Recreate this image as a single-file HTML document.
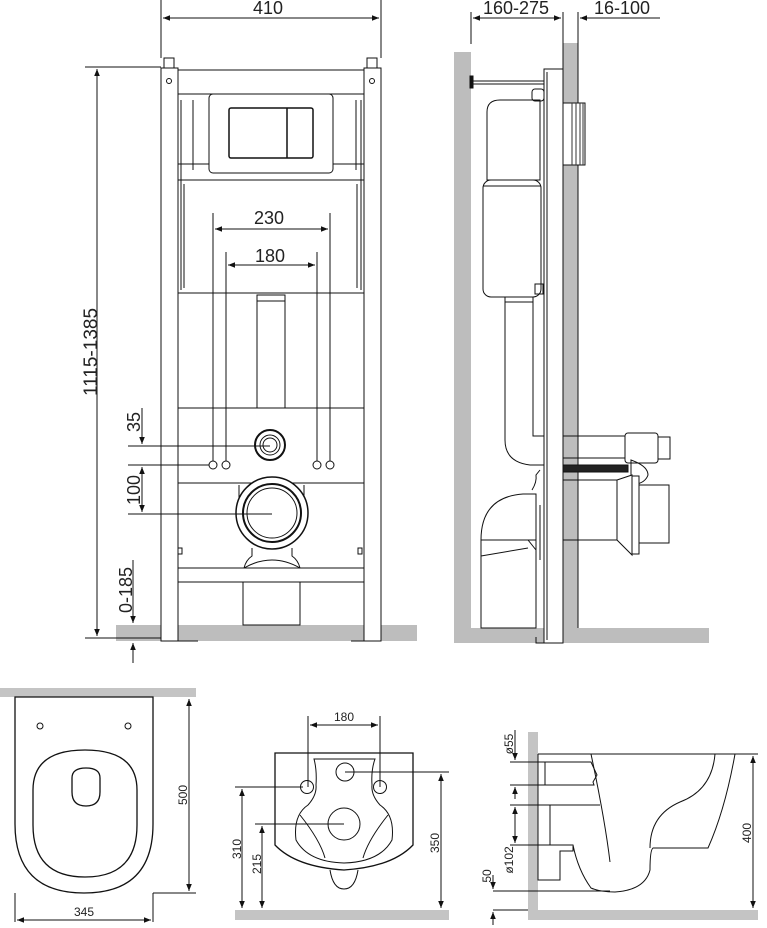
<!DOCTYPE html>
<html><head><meta charset="utf-8"><style>
html,body{margin:0;padding:0;background:#fff;}
svg{display:block;}
text{font-family:"Liberation Sans",sans-serif;fill:#222;}
</style></head><body>
<svg width="767" height="928" viewBox="0 0 767 928" xmlns="http://www.w3.org/2000/svg">
<defs>
<marker id="a" viewBox="0 0 10 10" refX="10" refY="5" markerWidth="9" markerHeight="7" orient="auto-start-reverse" markerUnits="userSpaceOnUse"><path d="M0,1 L10,5 L0,9 z" fill="#111"/></marker>
</defs>
<g fill="none" stroke="#111" stroke-width="1">
<rect x="116" y="625" width="301" height="16" fill="#bdbdbd" stroke="none"/>
<rect x="161" y="68" width="17" height="573" fill="#fff"/>
<rect x="364" y="68" width="17" height="573" fill="#fff"/>
<rect x="164" y="58" width="10" height="10"/>
<rect x="367" y="58" width="10" height="10"/>
<circle cx="169" cy="81" r="2.5"/><circle cx="372" cy="81" r="2.5"/>
<path d="M161,641 H198 M351,641 H381"/>
<path d="M178,70 H364 M178,94 H364 M178,164 H364 M178,180 H364 M178,293 H364"/>
<path d="M181,100 V290 M193,100 V170 M356,100 V170 M361,100 V290 M184,184 V288 M357,184 V288"/>
<rect x="209" y="94" width="124" height="79" rx="4" fill="#fff"/>
<rect x="229" y="108" width="84" height="50" rx="2" stroke-width="1.5"/>
<path d="M287,108 V158" stroke-width="1.5"/>
<path d="M257,295 V408 M285,295 V408"/>
<rect x="257" y="295" width="28" height="6"/>
<path d="M178,408 H364 M178,483 H364 M178,568 H364 M178,582 H364"/>
<circle cx="270" cy="445" r="15" stroke-width="2"/><circle cx="270" cy="445" r="10"/><circle cx="270" cy="445" r="7"/>
<circle cx="213" cy="465" r="4"/><circle cx="226" cy="465" r="4"/><circle cx="317" cy="465" r="4"/><circle cx="330" cy="465" r="4"/>
<path d="M239,485 V520 M304,485 V520"/>
<circle cx="272" cy="513" r="36" fill="#fff" stroke-width="1.5"/><circle cx="272" cy="513" r="29" stroke-width="2"/><circle cx="272" cy="513" r="25"/>
<path d="M252,548 V556 Q246,560 244,568 M292,548 V556 Q298,560 300,568 M244,568 Q272,552 300,568"/>
<rect x="243" y="582" width="57" height="43"/>
<rect x="178" y="548" width="4" height="6"/><rect x="358" y="548" width="4" height="6"/>
<path d="M161,58 V0 M381,58 V0"/>
<path d="M163,18 H379" marker-start="url(#a)" marker-end="url(#a)"/>
<path d="M85,67 H161 M85,638 H161"/>
<path d="M97,69 V636" marker-start="url(#a)" marker-end="url(#a)"/>
<path d="M213,213 V461 M330,213 V461 M226,252 V461 M317,252 V461"/>
<path d="M215,229 H328" marker-start="url(#a)" marker-end="url(#a)"/>
<path d="M228,265 H315" marker-start="url(#a)" marker-end="url(#a)"/>
<path d="M128,446 H270 M128,465 H209 M128,514 H272"/>
<path d="M142,408 V444" marker-end="url(#a)"/>
<path d="M142,467 V512" marker-start="url(#a)" marker-end="url(#a)"/>
<path d="M133,560 V623" marker-end="url(#a)"/>
<path d="M133,663 V643" marker-end="url(#a)"/>
<path d="M118,638 H161"/>

<rect x="454" y="52" width="17" height="591" fill="#bdbdbd" stroke="none"/>
<rect x="454" y="628" width="255" height="15" fill="#bdbdbd" stroke="none"/>
<rect x="563" y="43" width="15" height="585" fill="#bdbdbd" stroke="none"/>
<path d="M563,43 V628 M578,43 V628"/>
<rect x="544" y="69" width="19" height="574" fill="#fff"/>
<path d="M547,72 V640"/>
<path d="M471,81 H544 M471,84 H544"/><rect x="470" y="76" width="3" height="12" fill="#111"/>
<rect x="532" y="89" width="12" height="12" rx="3"/>
<path d="M487,180 V112 Q487,100 500,100 H540 V180 Z"/>
<rect x="483" y="180" width="58" height="117" rx="8" fill="#fff"/>
<path d="M483,186 H541"/>
<rect x="535" y="284" width="8" height="10"/>
<path d="M505,300 V440 Q505,462 530,465 H544 M533,300 V436 H544"/>
<rect x="505" y="297" width="28" height="5"/>
<rect x="563" y="103" width="22" height="62" fill="#fff"/>
<path d="M572,103 V165 M576,103 V165 M580,103 V165 M583,103 V165" stroke="#333"/>
<path d="M563,436 H625 M563,458 H625"/>
<rect x="625" y="433" width="33" height="30" rx="3" fill="#fff"/>
<rect x="658" y="437" width="12" height="22"/>
<rect x="563" y="465" width="65" height="7" fill="#222"/>
<path d="M631,460 Q648,466 648,475 Q645,484 631,485 Z"/>
<path d="M563,480 H617 M563,540 H617"/>
<path d="M617,480 L632,475 V555 L617,540 Z" fill="#fff"/>
<rect x="632" y="476" width="7" height="78" fill="#fff"/>
<rect x="639" y="485" width="30" height="58"/>
<path d="M481,540 Q481,497 523,494 H536 V540 Z" fill="#fff"/>
<path d="M481,540 H528 L536,550 V628 H481 Z" fill="#fff"/>
<path d="M481,556 L528,548"/>
<path d="M536,498 V560 M540,505 V560"/>
<path d="M540,470 L536,475 Q537,482 532,490"/>
<path d="M536,637 V643 H547"/>
<path d="M471,12 V44 M563,12 V44 M578,12 V44"/>
<path d="M473,18 H561" marker-start="url(#a)" marker-end="url(#a)"/>
<path d="M660,18 H580" marker-end="url(#a)"/>

<rect x="0" y="688" width="196" height="9" fill="#c4c4c4" stroke="none"/>
<path d="M15,697 H153 V824 Q153,893 84,893 Q15,893 15,824 Z" stroke-width="1.3"/>
<path d="M33,790 Q33,750 85,750 Q137,750 137,790 V825 Q137,877 85,877 Q33,877 33,825 Z" stroke-width="1.3"/>
<path d="M72,778 Q72,768 86,768 Q100,768 100,778 V792 Q100,806 86,806 Q72,806 72,792 Z" stroke-width="1.3"/>
<circle cx="40" cy="726" r="3"/><circle cx="128" cy="726" r="3"/>
<path d="M153,893 H196 M15,893 V922 M153,893 V922"/>
<path d="M189,699 V891" marker-start="url(#a)" marker-end="url(#a)"/>
<path d="M17,920 H151" marker-start="url(#a)" marker-end="url(#a)"/>

<rect x="235" y="910" width="214" height="10" fill="#c4c4c4" stroke="none"/>
<path d="M275,753 H413 V845 Q392,867 344,870 Q296,867 275,845 Z" stroke-width="1.3"/>
<path d="M330,870 Q333,889 344,889 Q355,889 358,870"/>
<path d="M314,759 H375 Q371,770 372,785 Q371,795 380,805 Q395,815 392,840 Q380,862 344,863 Q308,862 296,840 Q293,815 308,805 Q317,795 316,785 Q317,770 314,759 Z"/>
<path d="M300,815 Q320,840 325,858 M388,815 Q368,840 363,858"/>
<circle cx="307" cy="787" r="6.5"/><circle cx="380" cy="787" r="6.5"/><circle cx="345" cy="772" r="9"/>
<circle cx="344" cy="824" r="16"/>
<path d="M308,716 V787 M380,716 V787"/>
<path d="M310,725 H378" marker-start="url(#a)" marker-end="url(#a)"/>
<path d="M235,787 H303 M255,824 H344 M345,772 H449"/>
<path d="M242,789 V908" marker-start="url(#a)" marker-end="url(#a)"/>
<path d="M262,826 V908" marker-start="url(#a)" marker-end="url(#a)"/>
<path d="M441,774 V908" marker-start="url(#a)" marker-end="url(#a)"/>

<rect x="528" y="732" width="10" height="188" fill="#c4c4c4" stroke="none"/>
<rect x="528" y="910" width="230" height="10" fill="#c4c4c4" stroke="none"/>
<path d="M538,754 H735 M538,754 V880 H560 V851 H573 V846"/>
<path d="M545,762 H591 L597,775 L593,782 L594,785 H545 Z"/>
<path d="M550,805 H598 M550,805 V845 H573 Q578,870 591,888 Q600,892 615,892 Q645,890 650,870 Q650,850 653,848 H708 Q725,810 735,754"/>
<path d="M591,754 Q605,820 610,862 M715,754 Q712,790 680,802 Q650,815 650,848"/>
<path d="M510,762 H545 M510,785 H545 M510,805 H600 M510,845 H573"/>
<path d="M515,730 V760" marker-end="url(#a)"/>
<path d="M515,799 V787" marker-end="url(#a)"/>
<path d="M515,807 V843" marker-start="url(#a)" marker-end="url(#a)"/>
<path d="M493,891 H610 M493,910 H528 M735,754 H758"/>
<path d="M493,875 V889" marker-end="url(#a)"/>
<path d="M493,925 V912" marker-end="url(#a)"/>
<path d="M753,756 V908" marker-start="url(#a)" marker-end="url(#a)"/>
</g>
<g font-size="18">
<text x="268" y="14" text-anchor="middle">410</text>
<text x="269" y="224" text-anchor="middle">230</text>
<text x="270" y="262" text-anchor="middle">180</text>
<text transform="translate(97,352) rotate(-90)" text-anchor="middle" font-size="19">1115-1385</text>
<text transform="translate(140,422) rotate(-90)" text-anchor="middle">35</text>
<text transform="translate(140,490) rotate(-90)" text-anchor="middle">100</text>
<text transform="translate(132,590) rotate(-90)" text-anchor="middle">0-185</text>
<text x="516" y="14" text-anchor="middle">160-275</text>
<text x="622" y="14" text-anchor="middle">16-100</text>
</g>
<g font-size="12">
<text x="84" y="916" text-anchor="middle">345</text>
<text transform="translate(187,795) rotate(-90)" text-anchor="middle">500</text>
<text x="344" y="721" text-anchor="middle">180</text>
<text transform="translate(241,849) rotate(-90)" text-anchor="middle">310</text>
<text transform="translate(261,864) rotate(-90)" text-anchor="middle">215</text>
<text transform="translate(439,843) rotate(-90)" text-anchor="middle">350</text>
<text transform="translate(751,833) rotate(-90)" text-anchor="middle">400</text>
<text transform="translate(513,744) rotate(-90)" text-anchor="middle">ø55</text>
<text transform="translate(513,860) rotate(-90)" text-anchor="middle">ø102</text>
<text transform="translate(491,876) rotate(-90)" text-anchor="middle">50</text>
</g>
</svg>
</body></html>
